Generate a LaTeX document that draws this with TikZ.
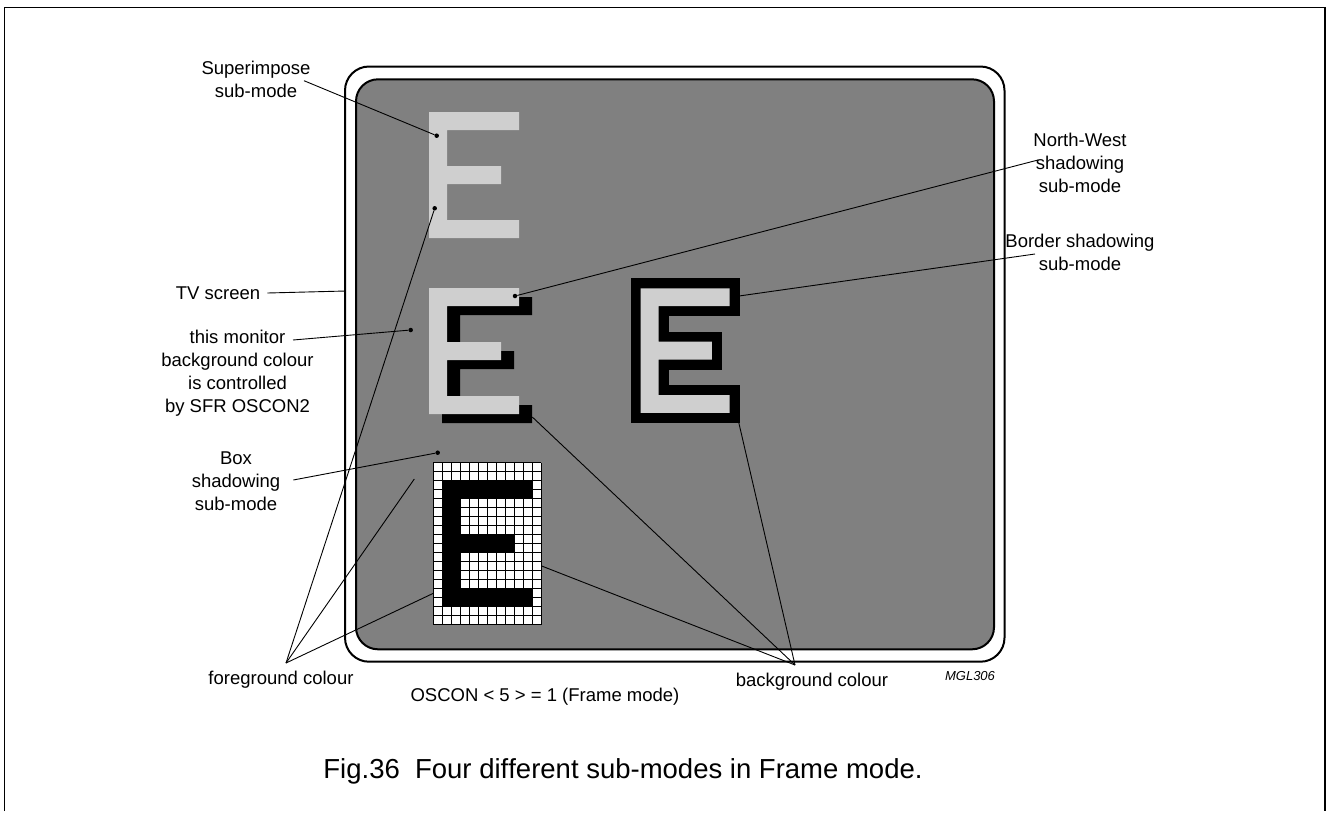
\documentclass[tikz,border=0pt]{standalone}
\usepackage{fontspec}
\setmainfont{Liberation Sans}
\begin{document}
\begin{tikzpicture}[x=1pt,y=-1pt]
\definecolor{scr}{HTML}{808080}
\definecolor{lite}{HTML}{CFCFCF}
\tikzset{
  Eshape/.style={insert path={(0,0) -- (10,0) -- (10,2) -- (2,2) -- (2,6) -- (8,6) -- (8,8) -- (2,8) -- (2,12) -- (10,12) -- (10,14) -- (0,14) -- cycle}},
  lbl/.style={font=\fontsize{18.5}{23}\selectfont, align=center, inner sep=0pt},
  lead/.style={line width=0.9pt},
  dot/.style={circle, fill=black, inner sep=0pt, minimum size=4.5pt}
}
\useasboundingbox (0,0) rectangle (1327,812);
% outer frame
\draw[line width=1.6pt] (4.5,811) -- (4.5,7.5) -- (1325,7.5) -- (1325,811);
% TV
\draw[line width=2pt, rounded corners=24pt] (345,66.5) rectangle (1004.5,661.7);
\draw[line width=2pt, fill=scr, rounded corners=22pt] (356,79.3) rectangle (994,649.3);
% superimpose E
\begin{scope}[shift={(429,112)}, x=9pt, y=-9pt]
  \fill[lite, Eshape];
\end{scope}
% north-west shadow E
\begin{scope}[shift={(442,297)}, x=9pt, y=-9pt]
  \fill[black, Eshape];
\end{scope}
\begin{scope}[shift={(429,288)}, x=9pt, y=-9pt]
  \fill[lite, Eshape];
\end{scope}
% border E
\begin{scope}[shift={(640.7,288.3)}, x=8.9pt, y=-8.9pt]
  \draw[black, line width=20pt, miter limit=10, fill=black, Eshape];
  \fill[lite, Eshape];
\end{scope}
% box E
\begin{scope}[shift={(433.3,462.7)}, x=9pt, y=-9pt]
  \fill[white] (0,0) rectangle (12,18);
  \foreach \i in {0,...,12} \draw[line width=0.8pt] (\i,0) -- (\i,18);
  \foreach \j in {0,...,18} \draw[line width=0.8pt] (0,\j) -- (12,\j);
  \begin{scope}[shift={(1,2)}]
    \fill[black, Eshape];
  \end{scope}
\end{scope}
% dots and anchor points
\node[dot] (d1) at (436.7,135.7) {};
\node[dot] (d2) at (434.7,208.3) {};
\node[dot] (dnw) at (515,296) {};
\node[dot] (dmon) at (410.7,330) {};
\node[dot] (dbox) at (437.7,452.7) {};
\coordinate (pbr) at (739,296);
\coordinate (ptv) at (345.5,291);
\coordinate (pfg2) at (414.3,479);
\coordinate (pfg3) at (433.3,593.3);
\coordinate (pbg1) at (532.3,417);
\coordinate (pbg2) at (541.7,566);
\coordinate (pbg3) at (738.7,422.3);
\coordinate (fgc) at (286,663);
\coordinate (bgc) at (795,665);
% labels
\node[lbl] (lsup) at (256,79) {Superimpose\\sub-mode};
\node[lbl] (lnw) at (1080,163) {North-West\\shadowing\\sub-mode};
\node[lbl] (lbr) at (1080,252) {Border shadowing\\sub-mode};
\node[lbl] (ltv) at (218,293) {TV screen};
\node[lbl] (lmon) at (237.5,373.5) {this monitor\\background colour\\is controlled\\by SFR OSCON2};
\node[lbl] (lbox) at (236,481) {Box\\shadowing\\sub-mode};
\node[lbl] (lfg) at (281,680) {foreground colour};
\node[lbl] (los) at (545,697) {OSCON < 5 > = 1 (Frame mode)};
\node[lbl] (lbg) at (812,682) {background colour};
\node[inner sep=0pt, font=\fontsize{13}{15}\selectfont\itshape] (lmgl) at (970,676) {MGL306};
\node[inner sep=0pt, font=\fontsize{27.5}{32}\selectfont] (cap) at (623,771) {Fig.36\ \ Four dif\kern0pt{}ferent sub-modes in Frame mode.};
% leaders
\draw[lead] (304,80.7) -- (d1);
\draw[lead] (1038,160) -- (dnw);
\draw[lead] (1035,254) -- (pbr);
\draw[lead] (ltv.east) ++(7,0) -- (ptv);
\draw[lead] (293,340) -- (dmon);
\draw[lead] (293.3,480) -- (dbox);
\draw[lead] (fgc) -- (d2);
\draw[lead] (fgc) -- (pfg2);
\draw[lead] (fgc) -- (pfg3);
\draw[lead] (bgc) -- (pbg1);
\draw[lead] (bgc) -- (pbg2);
\draw[lead] (bgc) -- (pbg3);
\end{tikzpicture}
\end{document}
